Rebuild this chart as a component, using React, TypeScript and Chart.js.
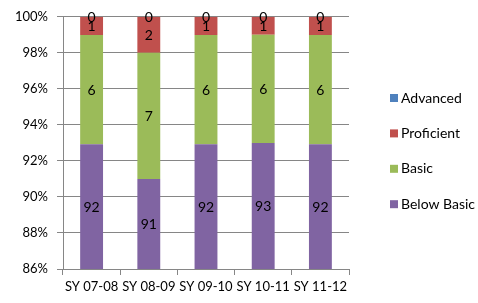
import React, { useEffect, useRef } from "react";
import { Chart, registerables } from "chart.js";

Chart.register(...registerables);

const categories = ["SY 07-08", "SY 08-09", "SY 09-10", "SY 10-11", "SY 11-12"];
const belowBasic = [92, 91, 92, 93, 92];
const basic = [6, 7, 6, 6, 6];
const proficient = [1, 2, 1, 1, 1];
const advanced = [0, 0, 0, 0, 0];
const yTicks = [86, 88, 90, 92, 94, 96, 98, 100];

const seriesNames = ["Below Basic", "Basic", "Proficient", "Advanced"];
const seriesColors = ["#8064A2", "#9BBB59", "#C0504D", "#4F81BD"];
const FONT = "Lato, 'Open Sans', sans-serif";

export default function App() {
  const ref = useRef<HTMLCanvasElement | null>(null);

  useEffect(() => {
    if (!ref.current) return;
    const raw = [belowBasic, basic, proficient, advanced];
    const totals = categories.map((_, i) => raw.reduce((s, arr) => s + arr[i], 0));
    const pct = raw.map((arr) => arr.map((v, i) => (v / totals[i]) * 100));

    const labelPlugin = {
      id: "segLabels",
      afterDatasetsDraw(chart: any) {
        const ctx = chart.ctx;
        const { top, bottom } = chart.chartArea;
        ctx.save();
        ctx.font = `14px ${FONT}`;
        ctx.fillStyle = "#000";
        ctx.textAlign = "center";
        ctx.textBaseline = "middle";
        chart.data.datasets.forEach((ds: any, di: number) => {
          const meta = chart.getDatasetMeta(di);
          meta.data.forEach((el: any, i: number) => {
            const y1 = Math.min(Math.max(el.y, top), bottom);
            const y2 = Math.min(Math.max(el.base, top), bottom);
            ctx.fillText(String(ds.rawValues[i]), el.x, (y1 + y2) / 2 + 1);
          });
        });
        ctx.restore();
      },
    };

    const legendPlugin = {
      id: "customLegend",
      afterDraw(chart: any) {
        const ctx = chart.ctx;
        ctx.save();
        ctx.font = `14px ${FONT}`;
        ctx.textBaseline = "middle";
        ctx.textAlign = "left";
        const ds = chart.data.datasets.slice().reverse();
        const x0 = chart.chartArea.right + 41;
        const yStart = 98;
        const gap = 35.4;
        ds.forEach((d: any, i: number) => {
          const yc = yStart + i * gap;
          ctx.fillStyle = d.backgroundColor;
          ctx.fillRect(x0, yc - 4, 8, 8);
          ctx.fillStyle = "#000";
          ctx.fillText(d.label, x0 + 11, yc);
        });
        ctx.restore();
      },
    };

    const chart = new Chart(ref.current, {
      type: "bar",
      data: {
        labels: categories,
        datasets: seriesNames.map((name, k) => ({
          label: name,
          data: pct[k],
          rawValues: raw[k],
          backgroundColor: seriesColors[k],
          borderWidth: 0,
          barPercentage: 0.4,
          categoryPercentage: 1,
        })) as any,
      },
      options: {
        responsive: false,
        animation: false,
        layout: { padding: { top: 13, right: 129, bottom: 0, left: 0 } },
        plugins: { legend: { display: false }, tooltip: { enabled: false } },
        scales: {
          x: {
            stacked: true,
            grid: { display: true, drawOnChartArea: false, drawTicks: true, tickLength: 6, color: "#868686", offset: true },
            border: { color: "#868686" },
            ticks: { color: "#000", font: { family: FONT, size: 13 }, padding: 4, maxRotation: 0, autoSkip: false },
            afterFit(scale: any) { scale.height = 34; },
          },
          y: {
            stacked: true,
            min: 86,
            max: 100,
            afterBuildTicks(scale: any) { scale.ticks = yTicks.map((v) => ({ value: v })); },
            grid: { color: "#868686", tickLength: 6 },
            border: { color: "#868686" },
            ticks: { color: "#000", font: { family: FONT, size: 13 }, padding: 9, callback: (v: any) => v + "%" },
            afterFit(scale: any) { scale.width = 63; },
          },
        },
      },
      plugins: [labelPlugin, legendPlugin],
    });
    return () => chart.destroy();
  }, []);

  return (
    <div style={{ position: "fixed", left: 0, top: 0, width: 478, height: 303, background: "#fff" }}>
      <canvas ref={ref} width={478} height={303} style={{ display: "block" }} />
    </div>
  );
}
